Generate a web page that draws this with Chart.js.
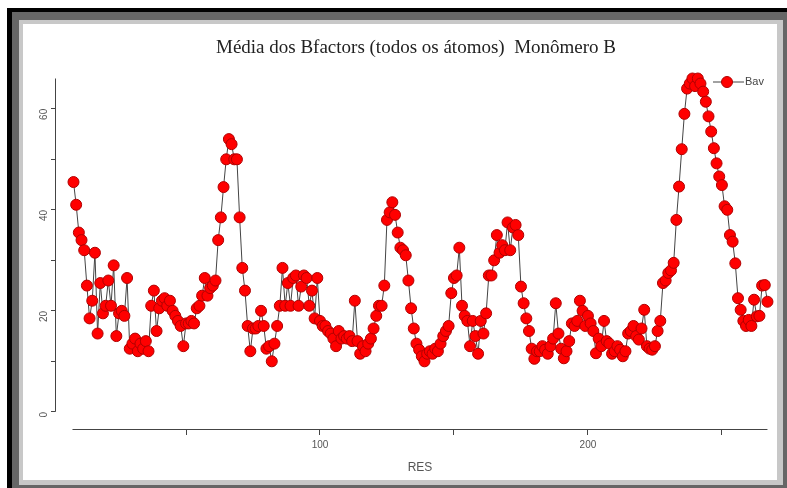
<!DOCTYPE html>
<html>
<head>
<meta charset="utf-8">
<script src="https://cdn.jsdelivr.net/npm/chart.js@4.4.0/dist/chart.umd.min.js"></script>
<style>
  body { margin: 0; background: #fff; }
  .layer { position: absolute; }
  #outer { left: 7px; top: 8px; width: 780px; height: 480px; background: #000; }
  #mid { left: 12px; top: 12px; width: 775px; height: 476px; background: #666; }
  #inner { left: 19px; top: 20px; width: 764px; height: 465px; background: #c8c8c8; }
  #plot { position: absolute; left: 23px; top: 24px; background: #fff; }
</style>
</head>
<body>
<div class="layer" id="outer"></div>
<div class="layer" id="mid"></div>
<div class="layer" id="inner"></div>
<canvas id="plot" width="754" height="456"></canvas>
<script>
const chartTitle = 'Média dos Bfactors (todos os átomos)  Monômero B';
const seriesName = 'Bav';
const xAxisTitle = 'RES';
const firstResidue = 8;
const xTickLabels = [100, 200];
const yTickLabels = [0, 20, 40, 60];

// B-factor average per residue
const bav = [
  45.5, 41, 35.5, 34, 32, 25, 18.5, 22, 31.5, 15.5,
  25.5, 19.5, 21, 26, 21, 29, 15, 19.5, 20, 19,
  26.5, 12.5, 13.5, 14.5, 12, 13.5, 12.5, 14, 12, 21,
  24, 16, 20.5, 22, 22.5, 21, 22, 20, 19, 18,
  17, 13, 17.5, 17.5, 18, 17.5, 20.5, 21, 23, 26.5,
  23, 24.5, 25, 26, 34, 38.5, 44.5, 50, 54, 53,
  50, 50, 38.5, 28.5, 24, 17, 12, 16.5, 16.5, 17,
  20, 17, 12.5, 13, 10, 13.5, 17, 21, 28.5, 21,
  25.5, 21, 26.5, 27, 21, 24.8, 27, 26.5, 21, 24,
  18.5, 26.5, 18, 17, 17, 16, 15.5, 14.5, 13, 16,
  14.5, 15, 14.5, 15, 14, 22, 14, 11.5, 13, 12,
  13.5, 14.5, 16.5, 19, 21, 21, 25, 38, 39.5, 41.5,
  39, 35.5, 32.5, 32, 31, 26, 20.5, 16.5, 13.5, 12.3,
  11, 10, 11.5, 12, 11.5, 12.5, 12, 13.5, 15, 16,
  17, 23.5, 26.5, 27, 32.5, 21, 19, 18, 13, 18,
  15, 11.5, 18, 15.5, 19.5, 27, 27, 30, 35, 31.5,
  33, 32, 37.5, 32, 36.5, 37, 35, 24.8, 21.5, 18.5,
  16, 12.5, 10.5, 12, 12, 13, 12.3, 11.5, 13, 14.5,
  21.5, 15.5, 12.5, 10.6, 12, 14, 17.5, 17, 18, 22,
  20, 17, 19, 17.5, 16, 11.6, 14.5, 13, 18, 14,
  13.5, 11.5, 12, 13, 12.3, 11, 12, 15.5, 16, 17,
  15, 14.3, 16.5, 20.2, 13, 12.5, 12.3, 13, 16, 18,
  25.5, 26, 27.5, 28, 29.5, 38, 44.6, 52, 59, 64,
  65, 66, 64.5, 66, 65, 63.4, 61.4, 58.5, 55.5, 52.2,
  49.2, 46.6, 44.9, 40.7, 40, 35, 33.7, 29.4, 22.5, 20.2,
  18, 17, 18.2, 17, 22.2, 18.9, 19, 25, 25.1, 21.8
];

const points = bav.map((v, i) => ({ x: firstResidue + i, y: v }));

const markerFill = '#ff0000';
const markerEdge = '#b00000';
const inkColor = '#444';

// axes in the S-Plus style: detached, spanning only the data
const axisLines = {
  id: 'axisLines',
  beforeDatasetsDraw(chart) {
    const { ctx, chartArea, scales: { x, y } } = chart;
    ctx.save();
    ctx.strokeStyle = inkColor;
    ctx.lineWidth = 1;
    ctx.beginPath();
    ctx.moveTo(chartArea.left + 0.5, y.getPixelForValue(0));
    ctx.lineTo(chartArea.left + 0.5, y.getPixelForValue(Math.max(...bav)));
    ctx.moveTo(x.getPixelForValue(firstResidue) - 1, chartArea.bottom + 0.5);
    ctx.lineTo(x.getPixelForValue(firstResidue + bav.length - 1), chartArea.bottom + 0.5);
    ctx.stroke();
    ctx.restore();
  },
  afterDraw(chart) {
    const { ctx, chartArea } = chart;
    ctx.save();
    // title
    ctx.fillStyle = '#222';
    ctx.font = '19px "Liberation Serif", "DejaVu Serif", serif';
    ctx.textAlign = 'center';
    ctx.textBaseline = 'middle';
    ctx.fillText(chartTitle, 393, 24);
    // x axis title
    ctx.font = '12px "Liberation Sans", Arial, sans-serif';
    ctx.fillStyle = '#555';
    ctx.fillText(xAxisTitle, 397, 444);
    // legend: line + marker + name
    const ly = chartArea.top + 4;
    const lx = chartArea.right - 41;
    ctx.strokeStyle = inkColor;
    ctx.beginPath();
    ctx.moveTo(lx - 14, ly);
    ctx.lineTo(lx + 17, ly);
    ctx.stroke();
    ctx.beginPath();
    ctx.arc(lx, ly, 5.5, 0, Math.PI * 2);
    ctx.fillStyle = markerFill;
    ctx.fill();
    ctx.strokeStyle = markerEdge;
    ctx.stroke();
    ctx.fillStyle = '#444';
    ctx.textAlign = 'left';
    ctx.font = '11px "Liberation Sans", Arial, sans-serif';
    ctx.fillText(seriesName, lx + 18, ly);
    ctx.restore();
  }
};

new Chart(document.getElementById('plot'), {
  type: 'line',
  data: {
    datasets: [{
      label: seriesName,
      data: points,
      borderColor: inkColor,
      borderWidth: 1,
      pointRadius: 5.5,
      pointBackgroundColor: markerFill,
      pointBorderColor: markerEdge,
      pointBorderWidth: 1,
      tension: 0,
      clip: false,
    }],
  },
  options: {
    responsive: false,
    animation: false,
    devicePixelRatio: 1,
    layout: { autoPadding: false, padding: { top: 54, right: 9, left: 0, bottom: 0 } },
    plugins: {
      legend: { display: false },
      title: { display: false },
      tooltip: { enabled: false },
    },
    scales: {
      x: {
        type: 'linear',
        min: 1.1,
        max: 267.2,
        border: { display: false },
        grid: { drawOnChartArea: false, drawTicks: true, tickLength: 6, color: inkColor },
        ticks: {
          stepSize: 50,
          includeBounds: false,
          padding: 4,
          maxRotation: 0,
          color: '#555',
          font: { size: 10, family: '"Liberation Sans", Arial, sans-serif' },
          callback: (v) => (xTickLabels.includes(v) ? String(v) : ''),
        },
        afterFit: (s) => { s.height = 51; },
      },
      y: {
        min: -3.4,
        max: 66.1,
        border: { display: false },
        grid: { drawOnChartArea: false, drawTicks: true, tickLength: 4, color: inkColor },
        ticks: {
          stepSize: 10,
          includeBounds: false,
          padding: 7,
          minRotation: 90,
          maxRotation: 90,
          color: '#555',
          font: { size: 10, family: '"Liberation Sans", Arial, sans-serif' },
          callback: (v) => (yTickLabels.includes(v) ? String(v) : ''),
        },
        afterFit: (s) => { s.width = 32; },
      },
    },
  },
  plugins: [axisLines],
});
</script>
</body>
</html>
